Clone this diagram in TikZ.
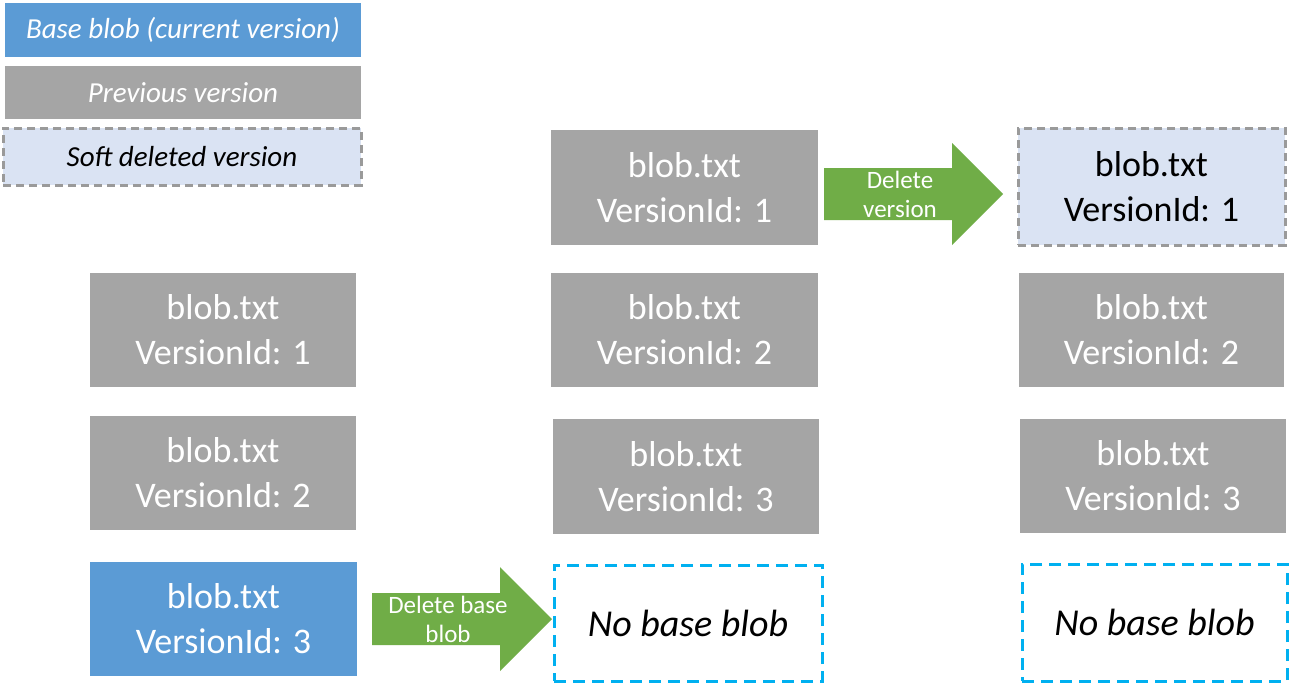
\documentclass[tikz,border=0pt]{standalone}
\usepackage{fontspec}
\setmainfont{Carlito}
\definecolor{bblue}{HTML}{5B9BD5}
\definecolor{bgray}{HTML}{A5A5A5}
\definecolor{softfill}{HTML}{DAE3F3}
\definecolor{dashgray}{HTML}{9A9A9A}
\definecolor{cyanline}{HTML}{00B0F0}
\definecolor{agreen}{HTML}{70AD47}
\begin{document}
\begin{tikzpicture}[x=1pt,y=-1pt,
  every node/.style={inner sep=0pt, outer sep=0pt, align=center},
  blobtext/.style={font=\fontsize{36}{45}\selectfont},
  nobasetext/.style={font=\fontsize{38}{45}\selectfont\itshape},
  legtext/.style={font=\fontsize{29}{33}\selectfont\itshape},
  prevbox/.style={fill=bgray, text=white},
  basebox/.style={fill=bblue, text=white},
  softbox/.style={fill=softfill, draw=dashgray, line width=3pt, dash pattern=on 8pt off 5pt, text=black},
  nobasebox/.style={fill=white, draw=cyanline, line width=3pt, dash pattern=on 12pt off 7pt, text=black},
  arrowlabel/.style={text=white, font=\fontsize{25}{29}\selectfont}
]
\useasboundingbox (0,0) rectangle (1292,688);
\fill[white] (0,0) rectangle (1292,688);

% legend
\node[basebox, legtext, minimum width=356, minimum height=54] (lbase) at (183,30) {Base blob (current version)};
\node[prevbox, legtext, minimum width=356, minimum height=53] (lprev) at (183,92.5) {Previous version};
\node[softbox, legtext, minimum width=358, minimum height=57] (lsoft) at (182,156.5) {Soft deleted version};

% column 1
\node[prevbox, blobtext, minimum width=266, minimum height=114] (a1) at (223,330) {blob.txt\\VersionId: 1};
\node[prevbox, blobtext, minimum width=266, minimum height=114] (a2) at (223,473) {blob.txt\\VersionId: 2};
\node[basebox, blobtext, minimum width=267, minimum height=114] (a3) at (223.5,619) {blob.txt\\VersionId: 3};

% column 2
\node[prevbox, blobtext, minimum width=267, minimum height=115] (b1) at (684.5,187.5) {blob.txt\\VersionId: 1};
\node[prevbox, blobtext, minimum width=267, minimum height=114] (b2) at (684.5,330) {blob.txt\\VersionId: 2};
\node[prevbox, blobtext, minimum width=266, minimum height=115] (b3) at (686,476.5) {blob.txt\\VersionId: 3};
\node[nobasebox, nobasetext, minimum width=268, minimum height=116] (b4) at (688,623) {No base blob};

% column 3
\node[softbox, blobtext, minimum width=267, minimum height=117] (c1) at (1151.5,186.5) {blob.txt\\VersionId: 1};
\node[prevbox, blobtext, minimum width=265, minimum height=114] (c2) at (1151.5,330) {blob.txt\\VersionId: 2};
\node[prevbox, blobtext, minimum width=266, minimum height=114] (c3) at (1153,476) {blob.txt\\VersionId: 3};
\node[nobasebox, nobasetext, minimum width=265, minimum height=117] (c4) at (1154.5,622.5) {No base blob};

% arrows
\fill[agreen] (824,168) -- (952,168) -- (952,143) -- (1003,194) -- (952,245) -- (952,220) -- (824,220) -- cycle;
\node[arrowlabel] (t1) at (900,194) {Delete\\version};
\fill[agreen] (372,593) -- (500,593) -- (500,567) -- (552,619) -- (500,671) -- (500,645) -- (372,645) -- cycle;
\node[arrowlabel] (t2) at (448,619) {Delete base\\blob};
\end{tikzpicture}
\end{document}
